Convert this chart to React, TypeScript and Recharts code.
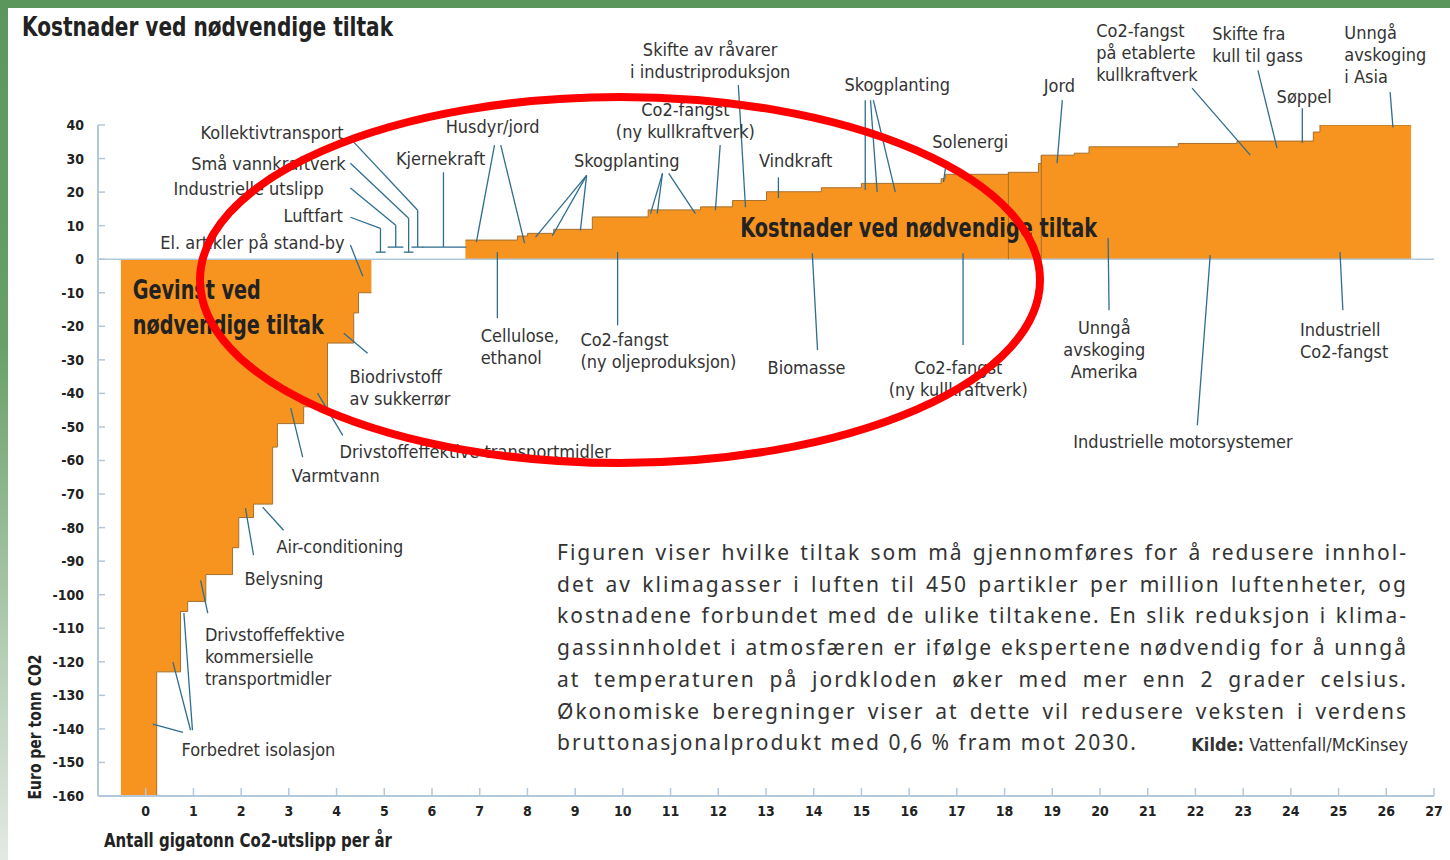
import React from "react"
import { AreaChart, Area, XAxis, YAxis, ReferenceLine, ReferenceDot } from "recharts"

const NARROW = '"Liberation Sans Narrow", "DejaVu Sans Condensed", Roboto, sans-serif'
const BODY = '"Noto Sans", "Open Sans", sans-serif'
const LEADER = "#2f6d90"
const AXIS = "#b3c8db"
const ORANGE = "#f6941f"

// step edges (gigatonn per år) and cost per step (euro per tonn)
const gainEdges = [-0.52, 0.23, 0.73, 0.88, 1.26, 1.82, 1.95, 2.26, 2.66, 2.76, 3.31, 3.81, 4.36, 4.46, 4.73]
const gainCost = [-160, -123, -105, -102, -94, -86, -77, -73, -56, -49, -44, -25, -16, -10]
const costEdges = [
  6.7, 7.79, 8.0, 8.55, 9.36, 10.53, 11.63, 12.3, 13.01, 14.16, 15.0, 16.67, 16.76, 18.08, 18.71, 18.77,
  19.46, 19.77, 21.64, 22.87, 24.47, 24.61, 26.52,
]
const costValues = [
  5.7, 6.9, 7.7, 8.9, 12.6, 14.7, 15.6, 17.5, 20.1, 21.3, 22.6, 24.0, 25.3, 25.9, 28.5, 31.0, 31.6, 33.5,
  34.5, 35.2, 37.9, 40,
]
// edges where a thin divider is drawn through the block
const dividerIdx = [13, 15]

const xTicks = [0, 1, 2, 3, 4, 5, 6, 7, 8, 9, 10, 11, 12, 13, 14, 15, 16, 17, 18, 19, 20, 21, 22, 23, 24, 25, 26, 27]
const yTicks = [-160, -150, -140, -130, -120, -110, -100, -90, -80, -70, -60, -50, -40, -30, -20, -10, 0, 10, 20, 30, 40]

const rows = [
  ...gainEdges.map((x, i) => ({ x, gain: gainCost[Math.min(i, gainCost.length - 1)], cost: null as number | null })),
  ...costEdges.map((x, i) => ({ x, gain: null as number | null, cost: costValues[Math.min(i, costValues.length - 1)] })),
]

type Lbl = { lines: string[]; x: number; y: number; anchor: "start" | "middle" | "end"; w?: number[] }

const labels: Lbl[] = [
  { lines: ["Kollektivtransport"], x: 4.15, y: 35.8, anchor: "end" },
  { lines: ["Små vannkraftverk"], x: 4.19, y: 26.5, anchor: "end" },
  { lines: ["Industrielle utslipp"], x: 3.73, y: 19.1, anchor: "end" },
  { lines: ["Luftfart"], x: 4.13, y: 11.0, anchor: "end" },
  { lines: ["El. artikler på stand-by"], x: 4.17, y: 3.0, anchor: "end" },
  { lines: ["Kjernekraft"], x: 6.18, y: 28.0, anchor: "middle" },
  { lines: ["Husdyr/jord"], x: 7.27, y: 37.6, anchor: "middle" },
  { lines: ["Skogplanting"], x: 10.08, y: 27.4, anchor: "middle" },
  { lines: ["Co2-fangst", "(ny kullkraftverk)"], x: 11.31, y: 42.6, anchor: "middle" },
  { lines: ["Skifte av råvarer", "i industriproduksjon"], x: 11.83, y: 60.5, anchor: "middle" },
  { lines: ["Vindkraft"], x: 13.62, y: 27.4, anchor: "middle" },
  { lines: ["Skogplanting"], x: 15.75, y: 50.1, anchor: "middle" },
  { lines: ["Solenergi"], x: 17.28, y: 33.1, anchor: "middle" },
  { lines: ["Jord"], x: 19.15, y: 49.8, anchor: "middle" },
  { lines: ["Co2-fangst", "på etablerte", "kullkraftverk"], x: 19.92, y: 66.2, anchor: "start" },
  { lines: ["Skifte fra", "kull til gass"], x: 22.35, y: 65.3, anchor: "start" },
  { lines: ["Søppel"], x: 24.28, y: 46.5, anchor: "middle" },
  { lines: ["Unngå", "avskoging", "i Asia"], x: 25.12, y: 65.6, anchor: "start" },
  { lines: ["Cellulose,", "ethanol"], x: 7.02, y: -24.7, anchor: "start" },
  { lines: ["Co2-fangst", "(ny oljeproduksjon)"], x: 9.11, y: -25.9, anchor: "start" },
  { lines: ["Biomasse"], x: 13.85, y: -34.3, anchor: "middle" },
  { lines: ["Co2-fangst", "(ny kullkraftverk)"], x: 17.03, y: -34.3, anchor: "middle" },
  { lines: ["Unngå", "avskoging", "Amerika"], x: 20.09, y: -22.4, anchor: "middle" },
  { lines: ["Industrielle motorsystemer"], x: 21.74, y: -56.3, anchor: "middle" },
  { lines: ["Industriell", "Co2-fangst"], x: 24.19, y: -23.0, anchor: "start" },
  { lines: ["Biodrivstoff", "av sukkerrør"], x: 4.27, y: -37.0, anchor: "start" },
  { lines: ["Drivstoffeffektive transportmidler"], x: 4.06, y: -59.3, anchor: "start" },
  { lines: ["Varmtvann"], x: 3.06, y: -66.5, anchor: "start" },
  { lines: ["Air-conditioning"], x: 2.74, y: -87.6, anchor: "start" },
  { lines: ["Belysning"], x: 2.07, y: -97.2, anchor: "start" },
  { lines: ["Drivstoffeffektive", "kommersielle", "transportmidler"], x: 1.24, y: -113.9, anchor: "start" },
  { lines: ["Forbedret isolasjon"], x: 0.75, y: -148.1, anchor: "start" },
]

const bigLabels: Lbl[] = [
  { lines: ["Gevinst ved", "nødvendige tiltak"], x: -0.27, y: -11.9, anchor: "start", w: [128, 191] },
  { lines: ["Kostnader ved nødvendige tiltak"], x: 12.46, y: 6.6, anchor: "start", w: [357] },
]

// leader lines, each a polyline in data units
const leaders: number[][][] = [
  [[4.36, 34.9], [5.7, 14.6], [5.7, 3.6]], [[5.57, 3.6], [5.82, 3.6]],
  [[4.29, 28.6], [5.51, 12.2], [5.51, 2.1]], [[5.41, 2.1], [5.61, 2.1]],
  [[4.29, 21.2], [5.24, 10.1], [5.24, 3.6]], [[5.07, 3.6], [5.4, 3.6]],
  [[4.29, 12.5], [4.92, 9.2], [4.92, 2.1]], [[4.82, 2.1], [5.03, 2.1]],
  [[4.29, 4.2], [4.55, -5.1]],
  [[6.24, 25.9], [6.24, 3.6]], [[5.8, 3.6], [6.72, 3.6]],
  [[7.31, 34.0], [6.93, 5.1]], [[7.44, 34.0], [7.94, 4.8]],
  [[9.24, 25.0], [8.17, 6.6]], [[9.24, 25.0], [8.52, 6.9]], [[9.24, 25.0], [9.11, 8.6]],
  [[10.83, 25.6], [10.58, 13.6]], [[10.83, 25.6], [10.72, 13.6]], [[10.96, 25.6], [11.52, 13.6]],
  [[12.04, 34.0], [11.94, 14.6]],
  [[12.42, 51.9], [12.57, 15.5]],
  [[13.26, 24.4], [13.26, 18.2]],
  [[15.08, 47.4], [15.08, 20.6]], [[15.19, 47.4], [15.33, 20.0]], [[15.25, 47.4], [15.71, 20.0]],
  [[16.76, 27.1], [16.72, 23.0]],
  [[19.21, 47.4], [19.1, 28.6]],
  [[21.93, 51.0], [23.15, 31.0]],
  [[23.31, 56.3], [23.71, 33.1]],
  [[24.24, 45.0], [24.24, 34.6]],
  [[26.08, 49.8], [26.14, 39.3]],
  [[7.37, 2.1], [7.37, -17.6]],
  [[9.89, 2.1], [9.89, -19.7]],
  [[13.97, 1.8], [14.08, -27.1]],
  [[17.13, 1.8], [17.13, -25.6]],
  [[20.17, 6.3], [20.19, -15.2]],
  [[22.31, 1.2], [22.04, -49.5]],
  [[25.03, 2.1], [25.09, -15.2]],
  [[4.15, -22.1], [4.65, -28.0]],
  [[3.6, -39.9], [4.13, -52.5]],
  [[3.04, -44.4], [3.29, -59.0]],
  [[2.45, -73.9], [2.89, -80.8]],
  [[2.09, -74.2], [2.26, -88.2]],
  [[1.15, -95.7], [1.3, -105.5]],
  [[0.15, -138.6], [0.78, -141.0]], [[0.57, -120.1], [0.94, -140.4]], [[0.8, -105.5], [0.98, -140.4]],
]

const paragraph = [
  "Figuren viser hvilke tiltak som må gjennomføres for å redusere innhol-",
  "det av klimagasser i luften til 450 partikler per million luftenheter, og",
  "kostnadene forbundet med de ulike tiltakene. En slik reduksjon i klima-",
  "gassinnholdet i atmosfæren er ifølge ekspertene nødvendig for å unngå",
  "at temperaturen på jordkloden øker med mer enn 2 grader celsius.",
  "Økonomiske beregninger viser at dette vil redusere veksten i verdens",
  "bruttonasjonalprodukt med 0,6 % fram mot 2030.",
]

function textDot(l: Lbl, key: string, size: number, weight: number, lineGap: number, fill: string) {
  return (
    <ReferenceDot
      key={key}
      x={l.x}
      y={l.y}
      r={0}
      ifOverflow="visible"
      shape={(p: any) => (
        <g>
          {l.lines.map((s, k) => (
            <text
              key={k}
              x={p.cx}
              y={p.cy + k * lineGap}
              textAnchor={l.anchor}
              fontFamily={NARROW}
              fontSize={size}
              fontWeight={weight}
              fill={fill}
              textLength={l.w ? l.w[k] : undefined}
              lengthAdjust={l.w ? "spacingAndGlyphs" : undefined}
            >
              {s}
            </text>
          ))}
        </g>
      )}
    />
  )
}

export default function App() {
  return (
    <div
      style={{
        position: "absolute",
        left: 0,
        top: 0,
        width: 1450,
        height: 860,
        overflow: "hidden",
        background: "linear-gradient(180deg, #5b975c 0%, #68a068 40%, #b4ccb4 75%, #e3e9e3 100%)",
      }}
    >
      <div style={{ position: "absolute", left: 8, top: 8, width: 1442, height: 852, background: "#fff" }} />
      <div style={{ position: "absolute", left: 0, top: 0 }}>
        <AreaChart width={1450} height={860} data={rows} margin={{ top: 125, right: 16, bottom: 34, left: 38 }}>
          <XAxis
            type="number"
            dataKey="x"
            domain={[-1, 27]}
            ticks={xTicks}
            allowDataOverflow
            axisLine={{ stroke: AXIS, strokeWidth: 2 }}
            tickLine={{ stroke: AXIS, strokeWidth: 1.5 }}
            tickSize={-8}
            tickMargin={18}
            tick={{ fill: "#222", fontSize: 14, fontWeight: 700, fontFamily: NARROW }}
          />
          <YAxis
            type="number"
            domain={[-160, 40]}
            ticks={yTicks}
            allowDataOverflow
            width={60}
            axisLine={{ stroke: AXIS, strokeWidth: 2 }}
            tickLine={{ stroke: AXIS, strokeWidth: 1.5 }}
            tickSize={-7}
            tickMargin={21}
            tick={{ fill: "#222", fontSize: 14, fontWeight: 700, fontFamily: NARROW }}
          />
          <ReferenceLine y={0} stroke={AXIS} strokeWidth={1.5} />
          <Area
            type="stepAfter"
            dataKey="gain"
            baseValue={0}
            fill={ORANGE}
            fillOpacity={1}
            stroke="#a4702e"
            strokeWidth={1}
            isAnimationActive={false}
            dot={false}
            activeDot={false}
          />
          <Area
            type="stepAfter"
            dataKey="cost"
            baseValue={0}
            fill={ORANGE}
            fillOpacity={1}
            stroke="#a4702e"
            strokeWidth={1}
            isAnimationActive={false}
            dot={false}
            activeDot={false}
          />
          {dividerIdx.map((i) => (
            <ReferenceLine
              key={`d${i}`}
              segment={[
                { x: costEdges[i], y: 0 },
                { x: costEdges[i], y: costValues[i] },
              ]}
              stroke="#a4702e"
              strokeWidth={1}
              ifOverflow="visible"
            />
          ))}
          {leaders.flatMap((pts, i) =>
            pts.slice(1).map((p, j) => (
              <ReferenceLine
                key={`l${i}-${j}`}
                segment={[
                  { x: pts[j][0], y: pts[j][1] },
                  { x: p[0], y: p[1] },
                ]}
                stroke={LEADER}
                strokeWidth={1.3}
                ifOverflow="visible"
              />
            ))
          )}
          {labels.map((l, i) => textDot(l, `t${i}`, 18, 400, 22, "#333"))}
          {bigLabels.map((l, i) => textDot(l, `b${i}`, 27, 700, 35, "#222"))}
        </AreaChart>
      </div>

      <svg width={1450} height={860} style={{ position: "absolute", left: 0, top: 0, pointerEvents: "none" }}>
        <text
          x={22}
          y={36}
          fontFamily={NARROW}
          fontSize={26}
          fontWeight={700}
          fill="#222"
          textLength={371}
          lengthAdjust="spacingAndGlyphs"
        >
          Kostnader ved nødvendige tiltak
        </text>
        <text
          transform="translate(41,727) rotate(-90)"
          textAnchor="middle"
          fontFamily={NARROW}
          fontSize={18}
          fontWeight={700}
          fill="#222"
          textLength={145}
          lengthAdjust="spacingAndGlyphs"
        >
          Euro per tonn CO2
        </text>
        <text
          x={104}
          y={847}
          fontFamily={NARROW}
          fontSize={19}
          fontWeight={700}
          fill="#222"
          textLength={288}
          lengthAdjust="spacingAndGlyphs"
        >
          Antall gigatonn Co2-utslipp per år
        </text>
        <ellipse cx={620} cy={280} rx={420} ry={183} fill="none" stroke="#ff0000" strokeWidth={8} />
      </svg>

      <div
        style={{
          position: "absolute",
          left: 557,
          top: 537,
          width: 851,
          fontFamily: BODY,
          fontSize: 21,
          letterSpacing: "2px",
          lineHeight: "31.7px",
          color: "#333",
        }}
      >
        {paragraph.map((s, i) => (
          <div
            key={i}
            style={{
              textAlign: "justify",
              textAlignLast: i === paragraph.length - 1 ? "left" : "justify",
              whiteSpace: "nowrap",
            }}
          >
            {s}
          </div>
        ))}
      </div>
      <div
        style={{
          position: "absolute",
          right: 1450 - 1408,
          top: 734,
          fontFamily: NARROW,
          fontSize: 18,
          color: "#333",
        }}
      >
        <b>Kilde:</b> Vattenfall/McKinsey
      </div>
    </div>
  )
}
